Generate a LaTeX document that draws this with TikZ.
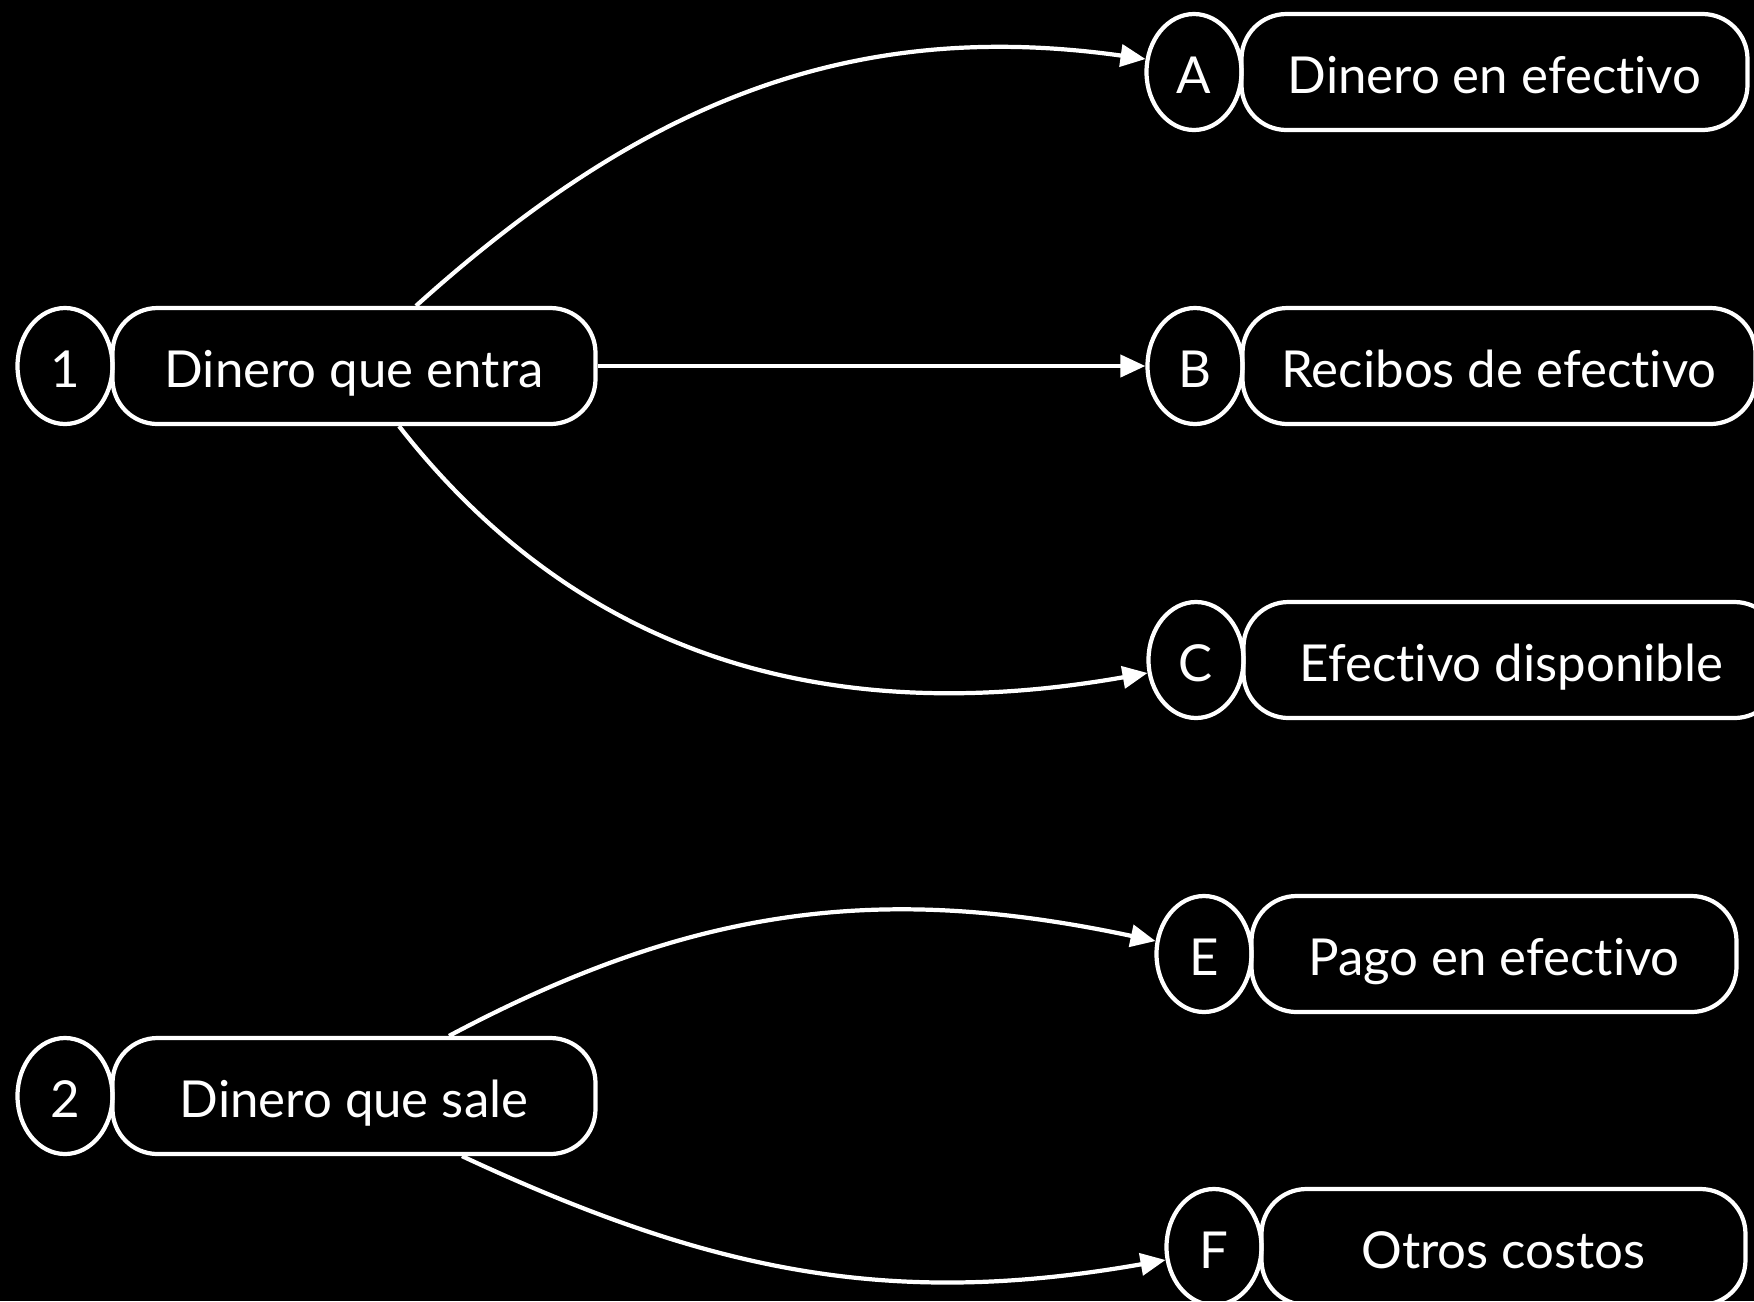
\documentclass[tikz,border=0pt]{standalone}
\usepackage{fontspec}
\setmainfont[Ligatures={NoCommon}]{Lato}
\usetikzlibrary{shapes.geometric,arrows.meta}

\begin{document}
\begin{tikzpicture}[num/.style={shape=ellipse,draw=white,line width=1.2pt,minimum width=0.95cm,minimum height=1.16cm,inner sep=0pt,text height=0.42cm,text depth=0cm,text=white,font=\fontsize{14.5}{17}\selectfont},lbl/.style={shape=rectangle,draw=white,line width=1.2pt,rounded corners=0.45cm,minimum height=1.16cm,inner sep=0pt,text height=0.42cm,text depth=0cm,text=white,anchor=west,xshift=-1.2pt,font=\fontsize{14.5}{17}\selectfont},flow/.style={draw=white,line width=1.2pt,-{Triangle[length=0.25cm,width=0.22cm]}}]
\def\xl{0.65};
\def\xr{11.95};

\fill[black] (0,0) rectangle (17.54,-13.01);
\useasboundingbox (0,0) rectangle (17.54,-13.01);

\node[num] (n1) at (\xl,-3.66) {1};
\node[lbl,minimum width=4.83cm] (in) at (n1.east) {Dinero que entra};
\node[num] (n2) at (\xl,-10.96) {2};
\node[lbl,minimum width=4.83cm] (out) at (n2.east) {Dinero que sale};

\node[num] (A) at (\xr-0.01,-0.72) {A};
\node[lbl,minimum width=5.06cm] (cash) at (A.east) {Dinero en efectivo};
\node[num] (B) at (\xr,-3.66) {B};
\node[lbl,minimum width=5.13cm] (receipts) at (B.east) {Recibos de efectivo};
\node[num] (C) at (\xr+0.01,-6.60) {C};
\node[lbl,minimum width=5.36cm] (avail) at (C.east) {Efectivo disponible};

\node[num] (E) at (\xr+0.09,-9.54) {E};
\node[lbl,minimum width=4.85cm] (pay) at (E.east) {Pago en efectivo};
\node[num] (F) at (\xr+0.19,-12.47) {F};
\node[lbl,minimum width=4.84cm] (other) at (F.east) {Otros costos};

\draw[flow] ([xshift=0.62cm]in.north) to[out=42,in=172] (A.165);
\draw[flow] (in.east) -- (B.west);
\draw[flow] ([xshift=0.45cm]in.south) to[out=-52,in=190] (C.195);
\draw[flow] ([xshift=0.95cm]out.north) to[out=28,in=168] (E.165);
\draw[flow] ([xshift=1.08cm]out.south) to[out=-25,in=190] (F.195);
\end{tikzpicture}
\end{document}
